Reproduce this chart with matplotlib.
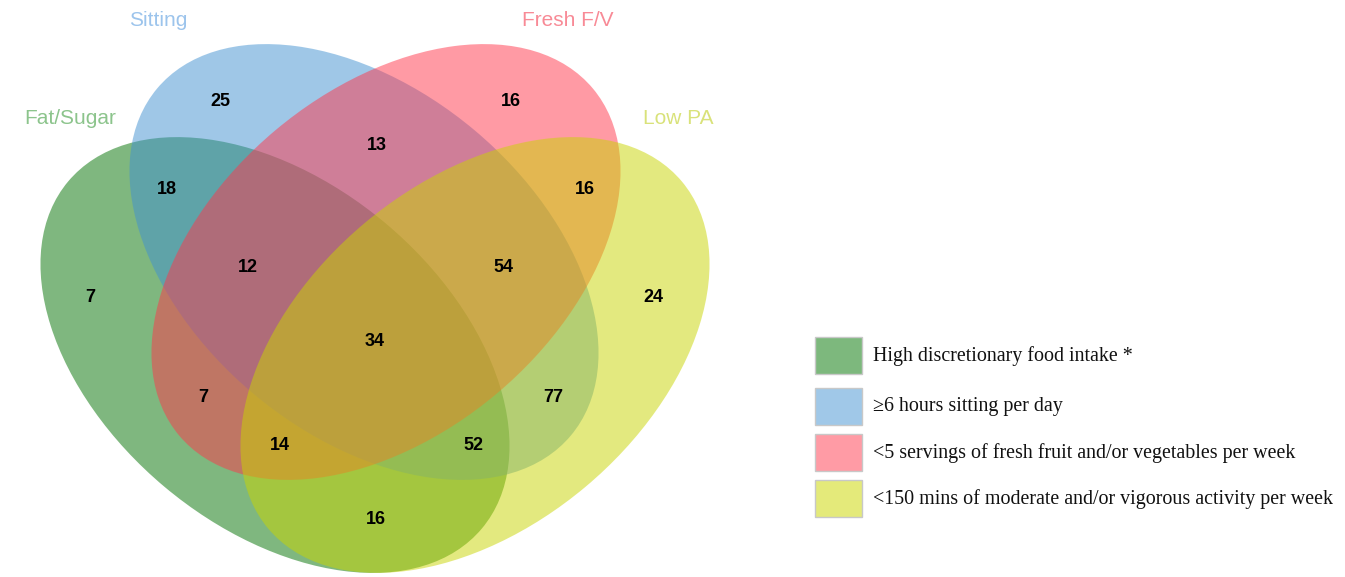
import matplotlib
matplotlib.use("Agg")
import matplotlib.pyplot as plt
from matplotlib.patches import Ellipse, Rectangle

# set names and colours
set_names = ["Fat/Sugar", "Sitting", "Fresh F/V", "Low PA"]
legend_labels = [
    "High discretionary food intake *",
    "\u22656 hours sitting per day",
    "<5 servings of fresh fruit and/or vegetables per week",
    "<150 mins of moderate and/or vigorous activity per week",
]

# region codes (A=Fat/Sugar, B=Sitting, C=Fresh F/V, D=Low PA) and counts
regions = ["A", "B", "C", "D", "AB", "BC", "CD", "AD",
           "ABC", "BCD", "ABCD", "AC", "BD", "ACD", "ABD"]
counts = [7, 25, 16, 24, 18, 13, 16, 16, 12, 54, 34, 7, 77, 14, 52]

fill_colors = ["#007100", "#4191d1", "#ff374b", "#c9d500"]
label_colors = ["#8cc48c", "#9cc4ec", "#f88a96", "#d9e27a"]
legend_colors = ["#7db87d", "#a0c8e8", "#ff9ba5", "#e4ea7a"]

# layout (pixel coordinates, y downward)
W, H = 1345, 577
ell_a, ell_b = 270, 172
ellipses = [((275, 355), 40), ((364, 262), 40), ((386, 262), -40), ((475, 355), -40)]
name_pos = [(70, 118), (158, 20), (568, 20), (678, 118)]
count_pos = {
    "A": (90, 297), "B": (220, 101), "C": (511, 101), "D": (653, 297),
    "AB": (167, 190), "BC": (377, 146), "CD": (585, 190), "AD": (376, 520),
    "ABC": (248, 267), "BCD": (503, 267), "ABCD": (375, 342), "AC": (203, 398),
    "BD": (553, 398), "ACD": (280, 445), "ABD": (473, 445),
}

fig = plt.figure(figsize=(W / 100, H / 100), dpi=100)
ax = fig.add_axes([0, 0, 1, 1])
ax.set_xlim(0, W)
ax.set_ylim(H, 0)
ax.axis("off")

for (center, ang), col in zip(ellipses, fill_colors):
    ax.add_patch(Ellipse(center, 2 * ell_a, 2 * ell_b, angle=ang,
                         facecolor=col, edgecolor="none", alpha=0.5))

for name, (x, y), col in zip(set_names, name_pos, label_colors):
    ax.text(x, y, name, ha="center", va="center", fontsize=15, color=col,
            family=["Liberation Sans", "DejaVu Sans"])

for reg, n in zip(regions, counts):
    x, y = count_pos[reg]
    ax.text(x, y, str(n), ha="center", va="center", fontsize=13,
            fontweight="bold", color="black",
            family=["Liberation Sans", "DejaVu Sans"])

# legend
box_y = [337, 388, 434, 480]
for y, col, lab in zip(box_y, legend_colors, legend_labels):
    ax.add_patch(Rectangle((815, y), 47, 37, facecolor=col,
                           edgecolor="#c8c8c8", linewidth=1))
    ax.text(873, y + 19, lab, ha="left", va="center", fontsize=14.4,
            color="#111111", family=["Liberation Serif", "DejaVu Serif"])

fig.savefig("out.png", dpi=100)
